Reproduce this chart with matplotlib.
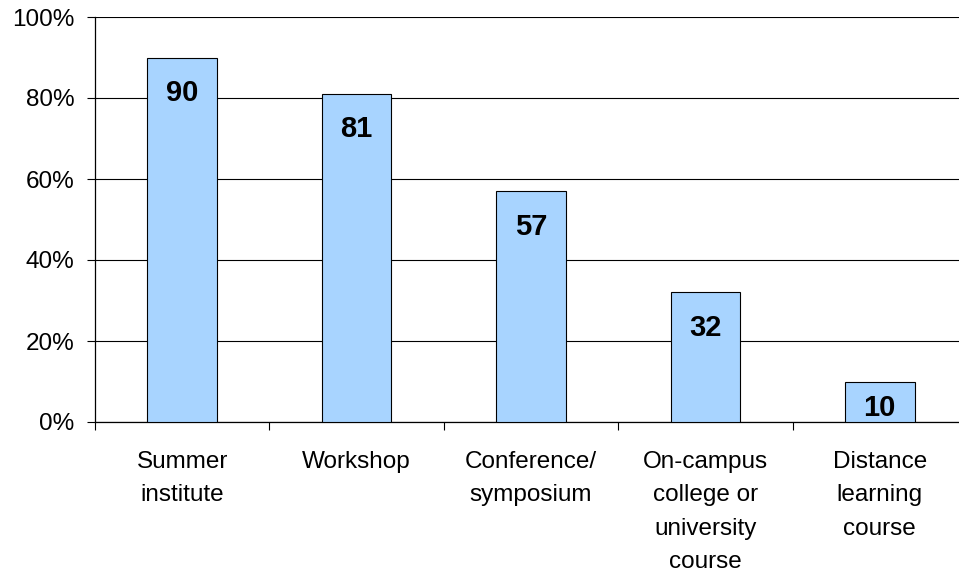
import matplotlib.pyplot as plt
import numpy as np

categories = ["Summer\ninstitute", "Workshop", "Conference/\nsymposium",
              "On-campus\ncollege or\nuniversity\ncourse", "Distance\nlearning\ncourse"]
values = [90, 81, 57, 32, 10]
yticks = [0, 20, 40, 60, 80, 100]

plt.rcParams["font.family"] = ["Liberation Sans", "DejaVu Sans"]

W, H = 959, 573
fig = plt.figure(figsize=(W / 100, H / 100), dpi=100)
left, right, top, bottom = 95, 967, 17, 422
ax = fig.add_axes([left / W, 1 - bottom / H, (right - left) / W, (bottom - top) / H])

x = np.arange(len(categories))
ax.bar(x, values, width=0.40, color="#A8D4FF", edgecolor="black", linewidth=0.8, zorder=3)

# value labels just inside the bar top, kept inside short bars
for xi, v in zip(x, values):
    ypos = max(v - 8.0, 4.2)
    ax.text(xi, ypos, str(v), ha="center", va="center_baseline",
            fontsize=21, fontweight="bold", zorder=4)

ax.set_xlim(-0.5, len(categories) - 0.5)
ax.set_ylim(0, 100)
ax.set_yticks(yticks)
ax.set_yticklabels([f"{t}%" for t in yticks], fontsize=17.5)
ax.yaxis.grid(True, color="black", linewidth=0.8, zorder=0)
ax.tick_params(axis="y", direction="out", length=6, width=0.8, pad=9)

# category labels centred, tick marks between categories
ax.set_xticks(x)
ax.set_xticklabels(categories, fontsize=17.5, linespacing=1.66, va="top")
ax.tick_params(axis="x", which="major", length=0, pad=21)
ax.set_xticks(np.arange(len(categories)) - 0.5, minor=True)
ax.tick_params(axis="x", which="minor", direction="out", length=6, width=0.8)

for side in ["top", "right"]:
    ax.spines[side].set_visible(False)
ax.spines["left"].set_linewidth(0.9)
ax.spines["bottom"].set_linewidth(0.9)

fig.savefig("out.png", dpi=100)
